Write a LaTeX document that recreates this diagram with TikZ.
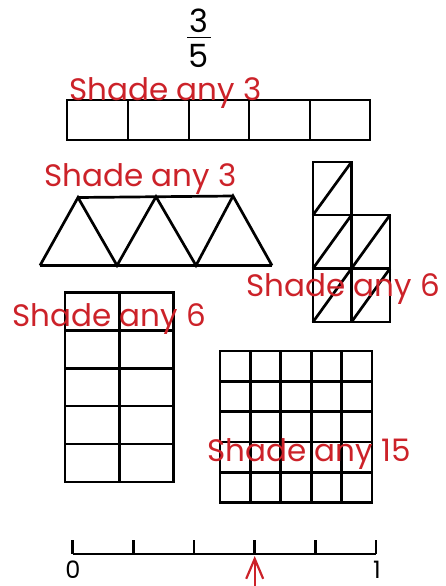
\documentclass[tikz,border=0pt]{standalone}
\usepackage{fontspec}
\setmainfont{Poppins}
\usetikzlibrary{arrows.meta}
\definecolor{lblred}{RGB}{204,34,41}
\begin{document}
\begin{tikzpicture}[x=1pt,y=-1pt,
  grid/.style={line width=2.7pt,line join=miter,black},
  lbl/.style={text=lblred,font=\fontsize{31}{31}\selectfont,anchor=base west,inner sep=0pt},
  num/.style={font=\fontsize{32}{32}\selectfont,inner sep=0pt}]
\useasboundingbox (0,0) rectangle (445,586);
% fraction
\node[num,anchor=base] (three) at (199,33) {3};
\node[num,anchor=base] (five) at (199,67) {5};
\draw[line width=1.2pt] (187,37.5) -- (211,37.5);
% strip
\draw[grid] (67,100) rectangle (370,140);
\foreach \x in {128,189,249,310} \draw[grid] (\x,100) -- (\x,140);
\node[lbl] (l1) at (69,100) {Shade any 3};
% triangles
\draw[grid] (40,265.5) -- (272,265.5);
\draw[grid] (78,197.5) -- (233,196);
\draw[grid] (40,265.5) -- (78,197.5) -- (117,265.5) -- (156,196.7) -- (196,265.5) -- (233,196) -- (272,265.5);
\node[lbl] (l2) at (44,186.5) {Shade any 3};
% right L shape
\draw[grid] (313,162) rectangle (351.5,215);
\draw[grid] (313,215) rectangle (351.5,268.5);
\draw[grid] (351.5,215) rectangle (390,268.5);
\draw[grid] (313,268.5) rectangle (351.5,322);
\draw[grid] (351.5,268.5) rectangle (390,322);
\draw[grid] (313,215) -- (351.5,162);
\draw[grid] (313,268.5) -- (351.5,215);
\draw[grid] (351.5,268.5) -- (390,215);
\draw[grid] (313,322) -- (351.5,268.5);
\draw[grid] (351.5,322) -- (390,268.5);
\node[lbl] (l3) at (246,296) {Shade any 6};
% left 2x5 grid
\draw[grid] (65,292.5) rectangle (173.5,482);
\draw[grid] (119.3,292.5) -- (119.3,482);
\foreach \y in {330.4,368.2,406.1,444} \draw[grid] (65,\y) -- (173.5,\y);
\node[lbl] (l4) at (12,326) {Shade any 6};
% right 5x5 grid
\draw[grid] (220,351) rectangle (372,502.5);
\foreach \i in {1,2,3,4} {
  \draw[grid] ({220+\i*30.4},351) -- ({220+\i*30.4},502.5);
  \draw[grid] (220,{351+\i*30.3}) -- (372,{351+\i*30.3});
}
\node[lbl] (l5) at (207,461) {Shade any 15};
% number line
\draw[grid] (72.7,554) -- (376,554);
\foreach \x in {72.7,133.4,194,254.7,315.3,376} \draw[grid] (\x,540) -- (\x,554);
\node[num,font=\fontsize{24}{24}\selectfont,anchor=base] (zero) at (73,578) {0};
\node[num,font=\fontsize{24}{24}\selectfont,anchor=base] (one) at (377,578) {1};
\coordinate (abot) at (254.7,590);
\coordinate (atop) at (254.7,556);
\draw[lblred,line width=2.2pt,-{Straight Barb[length=20pt,width=17pt,line width=2.2pt]}] (abot) -- (atop);
\end{tikzpicture}
\end{document}
